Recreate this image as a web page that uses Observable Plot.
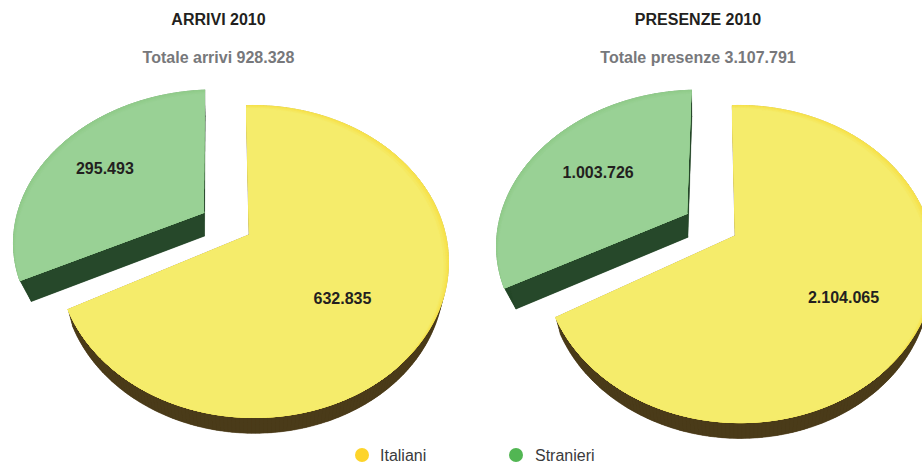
<!DOCTYPE html>
<html lang="it">
<head>
<meta charset="utf-8">
<script src="https://cdn.jsdelivr.net/npm/d3@7"></script>
<script src="https://cdn.jsdelivr.net/npm/@observablehq/plot@0.6"></script>
<style>
  html, body { margin: 0; padding: 0; background: #fff; }
  #page { position: relative; width: 922px; height: 465px; overflow: hidden; font-family: "Liberation Sans", Arial, sans-serif; }
  #header { position: relative; height: 80px; }
  .t { position: absolute; transform: translateX(-50%); white-space: nowrap; font-weight: bold; }
  .t1 { top: 11px; font-size: 16px; color: #231f20; line-height: 18px; }
  .t2 { top: 49px; font-size: 16px; color: #77787b; line-height: 18px; }
  #chart svg { display: block; overflow: hidden; }
  #legend { position: absolute; top: 445px; left: 0; height: 20px; width: 922px; font-size: 16px; color: #3a3a3c; }
  .sw { position: absolute; top: 3px; width: 14px; height: 14px; border-radius: 50%; }
  .lb { position: absolute; top: 2px; line-height: 18px; }
</style>
</head>
<body>
<div id="page">
  <div id="header"></div>
  <div id="chart"></div>
  <div id="legend"></div>
</div>
<script>
// ---- data ----
const panelTitles = ["ARRIVI 2010", "PRESENZE 2010"];
const totalLabels = ["Totale arrivi", "Totale presenze"];
const totals = [928328, 3107791];
const categories = ["Italiani", "Stranieri"];
const italiani = [632835, 2104065];
const stranieri = [295493, 1003726];

// ---- styling ----
const legendColors = ["#fdd42a", "#52b653"];
const rimYellow = ["#f7e24a", "#f6e555", "#f5e961", "#f5ec6b"];
const rimGreen = ["#90cb8a", "#93cd8d", "#96cf91", "#99d195"];
const sideColors = ["#4a3b19", "#26482a"];

// perspective description of each tilted disc
const views = [
  {titleX: 218.5, cx: 249, cy: 234, R: 192, S: 151.3, k: 0.173, j: 0.02, start: -1.05, trim: 2, vx: 215, vy: 640, dz: 0.06,
   ox: -0.245, oy: -0.150, sx: 1.025, g0: 1.15, g1: -0.95, lab: [[131.2, 0.594], [299.8, 0.655]]},
  {titleX: 698, cx: 735, cy: 235, R: 192, S: 153.4, k: 0.18, j: 0.02, start: -1.1, trim: 2.3, vx: 701, vy: 645, dz: 0.06,
   ox: -0.26, oy: -0.148, sx: 1.025, g0: 1.1, g1: 0.1, lab: [[125.7, 0.639], [300.3, 0.592]]}
];

const fmt = d3.formatLocale({decimal: ",", thousands: ".", grouping: [3], currency: ["", ""]}).format(",d");

function project(v, X, Y, dz = 0) {
  const w = 1 - v.k * Y - v.j * X;
  let x = v.cx + v.R * X / w, y = v.cy + v.S * Y / w;
  if (dz) { const t = dz / (w + dz); x += (v.vx - x) * t; y += (v.vy - y) * t; }
  return [x, y];
}
const rad = a => a * Math.PI / 180;
function wedge(v, s, inset = 0, dz = 0) {
  const pts = [project(v, s.X0, s.Y0, dz)];
  const n = Math.ceil(Math.abs(s.a1 - s.a0));
  for (let i = 0; i <= n; ++i) {
    const deg = s.a0 + (s.a1 - s.a0) * i / n;
    const a = rad(deg);
    const rho = 1 - inset * Math.max(0, Math.cos(rad(deg - s.rimAt)));
    pts.push(project(v, s.X0 + rho * s.sx * Math.sin(a), s.Y0 - rho * Math.cos(a), dz));
  }
  return pts;
}

const tops = [], sides = [], labels = [];
let id = 0;
function addPoly(target, pts, fill) {
  const key = id++;
  pts.forEach(([x, y]) => target.push({x, y, key, fill}));
}
views.forEach((v, p) => {
  const angle = d3.scaleLinear().domain([0, totals[p]]).range([0, 360]);
  const end = v.start + angle(italiani[p]) - v.trim;
  const slices = [
    {X0: 0, Y0: 0, sx: 1, a0: v.start, a1: end, value: italiani[p], rim: rimYellow, side: sideColors[0], rimAt: 50, base: rimYellow[3],
     wall: {...v, vx: v.cx + 2, vy: 1000}, wallDz: 0.023},
    {X0: v.ox, Y0: v.oy, sx: v.sx, a0: end + v.g0, a1: v.start + 360 + v.g1, value: stranieri[p], rim: rimGreen, side: sideColors[1], rimAt: 330, base: rimGreen[3],
     wall: v, wallDz: v.dz}
  ];
  slices.forEach((s, i) => {
    // extruded wall: lower face plus one quad for every edge of the outline
    const hi = wedge(v, s), lo = wedge(s.wall, s, 0, s.wallDz);
    addPoly(sides, lo, s.side);
    hi.forEach((h, m) => {
      const n = (m + 1) % hi.length;
      addPoly(sides, [h, hi[n], lo[n], lo[m]], s.side);
    });
    // top face: base colour, then faint rim bands on the far side of the disc
    addPoly(tops, hi, s.base);
    addPoly(tops, wedge(v, s), s.rim[0]);
    [0.012, 0.024, 0.04].forEach((d, b) => addPoly(tops, wedge(v, s, d), s.rim[b + 1]));
    const [la, lr] = v.lab[i];
    const a = rad(la);
    const [x, y] = project(v, s.X0 + lr * s.sx * Math.sin(a), s.Y0 - lr * Math.cos(a));
    labels.push({x, y, text: fmt(s.value)});
  });
});

const plot = Plot.plot({
  width: 922, height: 360,
  margin: 0,
  x: {type: "identity", axis: null},
  y: {domain: [80, 440], range: [0, 360], axis: null},
  color: {type: "identity"},
  style: {background: "#fff", fontFamily: "'Liberation Sans', Arial, sans-serif"},
  marks: [
    Plot.line(sides, {x: "x", y: "y", z: "key", fill: "fill", stroke: "fill", strokeWidth: 0.3, curve: "linear"}),
    Plot.line(tops, {x: "x", y: "y", z: "key", fill: "fill", stroke: "fill", strokeWidth: 0.8, curve: "linear"}),
    Plot.text(labels, {x: "x", y: "y", text: "text", fontSize: 16, fontWeight: "bold", fill: "#231f20"})
  ]
});
document.getElementById("chart").append(plot);

// titles above the SVG
const header = document.getElementById("header");
views.forEach((v, p) => {
  const a = document.createElement("div");
  a.className = "t t1"; a.style.left = v.titleX + "px"; a.textContent = panelTitles[p];
  const b = document.createElement("div");
  b.className = "t t2"; b.style.left = v.titleX + "px"; b.textContent = totalLabels[p] + " " + fmt(totals[p]);
  header.append(a, b);
});

// legend below the SVG
const legend = document.getElementById("legend");
[[355, 380], [509, 535]].forEach(([sx, tx], i) => {
  const s = document.createElement("div");
  s.className = "sw"; s.style.left = sx + "px"; s.style.background = legendColors[i];
  const l = document.createElement("div");
  l.className = "lb"; l.style.left = tx + "px"; l.textContent = categories[i];
  legend.append(s, l);
});
</script>
</body>
</html>
